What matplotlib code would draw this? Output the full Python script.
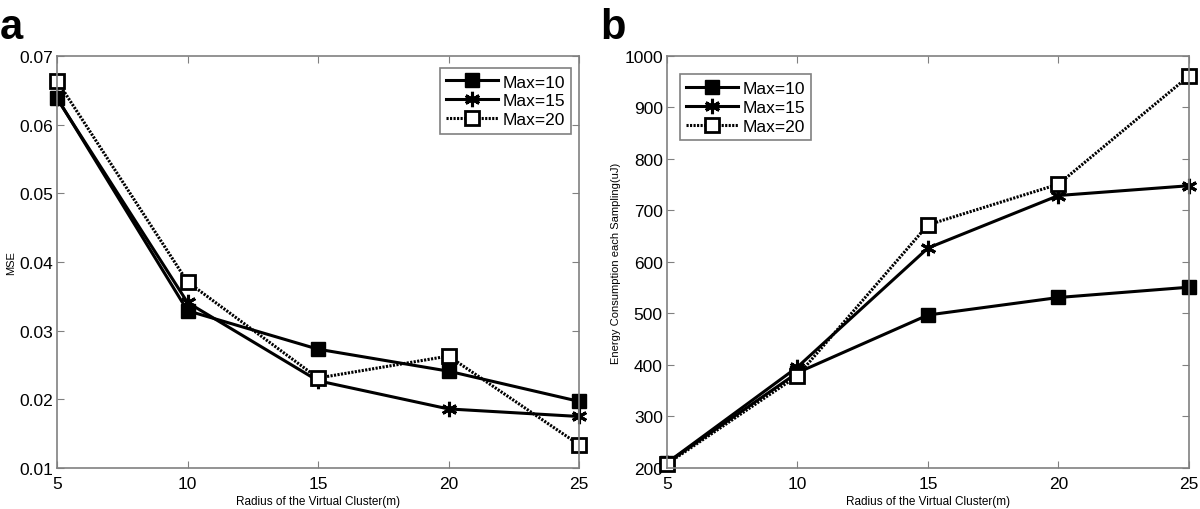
import matplotlib as mpl
mpl.use('Agg')
import matplotlib.pyplot as plt

plt.rcParams['font.family'] = ['Liberation Sans', 'DejaVu Sans']

radius = [5, 10, 15, 20, 25]
labels = ["Max=10", "Max=15", "Max=20"]

mse_10 = [0.0639, 0.0329, 0.0273, 0.0241, 0.0197]
mse_15 = [0.0638, 0.0341, 0.0227, 0.0186, 0.0175]
mse_20 = [0.0664, 0.0371, 0.0231, 0.0263, 0.0134]

energy_10 = [210, 385, 497, 531, 551]
energy_15 = [210, 396, 627, 729, 748]
energy_20 = [208, 379, 672, 751, 961]

gray = "#808080"
asterisk = (6, 2, 0)


def draw(ax, series, ylim, yticks, ylabel, legend_loc, anchor):
    styles = [
        dict(ls="-", marker="s", mfc="black", mec="black", ms=10),
        dict(ls="-", marker=asterisk, mfc="black", mec="black", ms=11, mew=2.2),
        dict(ls=(0, (0.7, 0.45)), marker="s", mfc="white", mec="black", ms=10, mew=2),
    ]
    for ys, lab, st in zip(series, labels, styles):
        ax.plot(radius, ys, color="black", lw=2.2, label=lab, clip_on=False, **st)
    ax.set_xlim(5, 25)
    ax.set_ylim(*ylim)
    ax.set_xticks(radius)
    ax.set_yticks(yticks)
    ax.tick_params(direction="in", top=True, right=True, color=gray,
                   labelsize=12.5, length=5)
    ax.tick_params(axis="x", pad=6)
    ax.tick_params(axis="y", pad=3)
    for s in ax.spines.values():
        s.set_color(gray)
        s.set_linewidth(1.2)
    ax.set_xlabel("Radius of the Virtual Cluster(m)", fontsize=8.5, labelpad=3)
    ax.set_ylabel(ylabel, fontsize=8, labelpad=2)
    leg = ax.legend(loc=legend_loc, bbox_to_anchor=anchor, fontsize=12.5,
                    fancybox=False, framealpha=1, edgecolor=gray,
                    handlelength=3.0, handletextpad=0.25, borderpad=0.35,
                    labelspacing=0.22, borderaxespad=0)
    leg.get_frame().set_linewidth(1.2)


fig = plt.figure(figsize=(12, 5.1), dpi=100)
ax1 = fig.add_axes([0.0475, 0.0804, 0.435, 0.808])
ax2 = fig.add_axes([0.5558, 0.0804, 0.435, 0.808])

draw(ax1, [mse_10, mse_15, mse_20], (0.01, 0.07),
     [0.01, 0.02, 0.03, 0.04, 0.05, 0.06, 0.07], "MSE",
     "upper right", (0.985, 0.97))
ax1.set_yticklabels(["0.01", "0.02", "0.03", "0.04", "0.05", "0.06", "0.07"])
draw(ax2, [energy_10, energy_15, energy_20], (200, 1000),
     list(range(200, 1001, 100)), "Energy Consumption each Sampling(uJ)",
     "upper left", (0.025, 0.955))

fig.text(0.0, 0.985, "a", fontsize=30, fontweight="bold", va="top", ha="left")
fig.text(0.5, 0.985, "b", fontsize=30, fontweight="bold", va="top", ha="left")

fig.savefig("out.png", dpi=100)
